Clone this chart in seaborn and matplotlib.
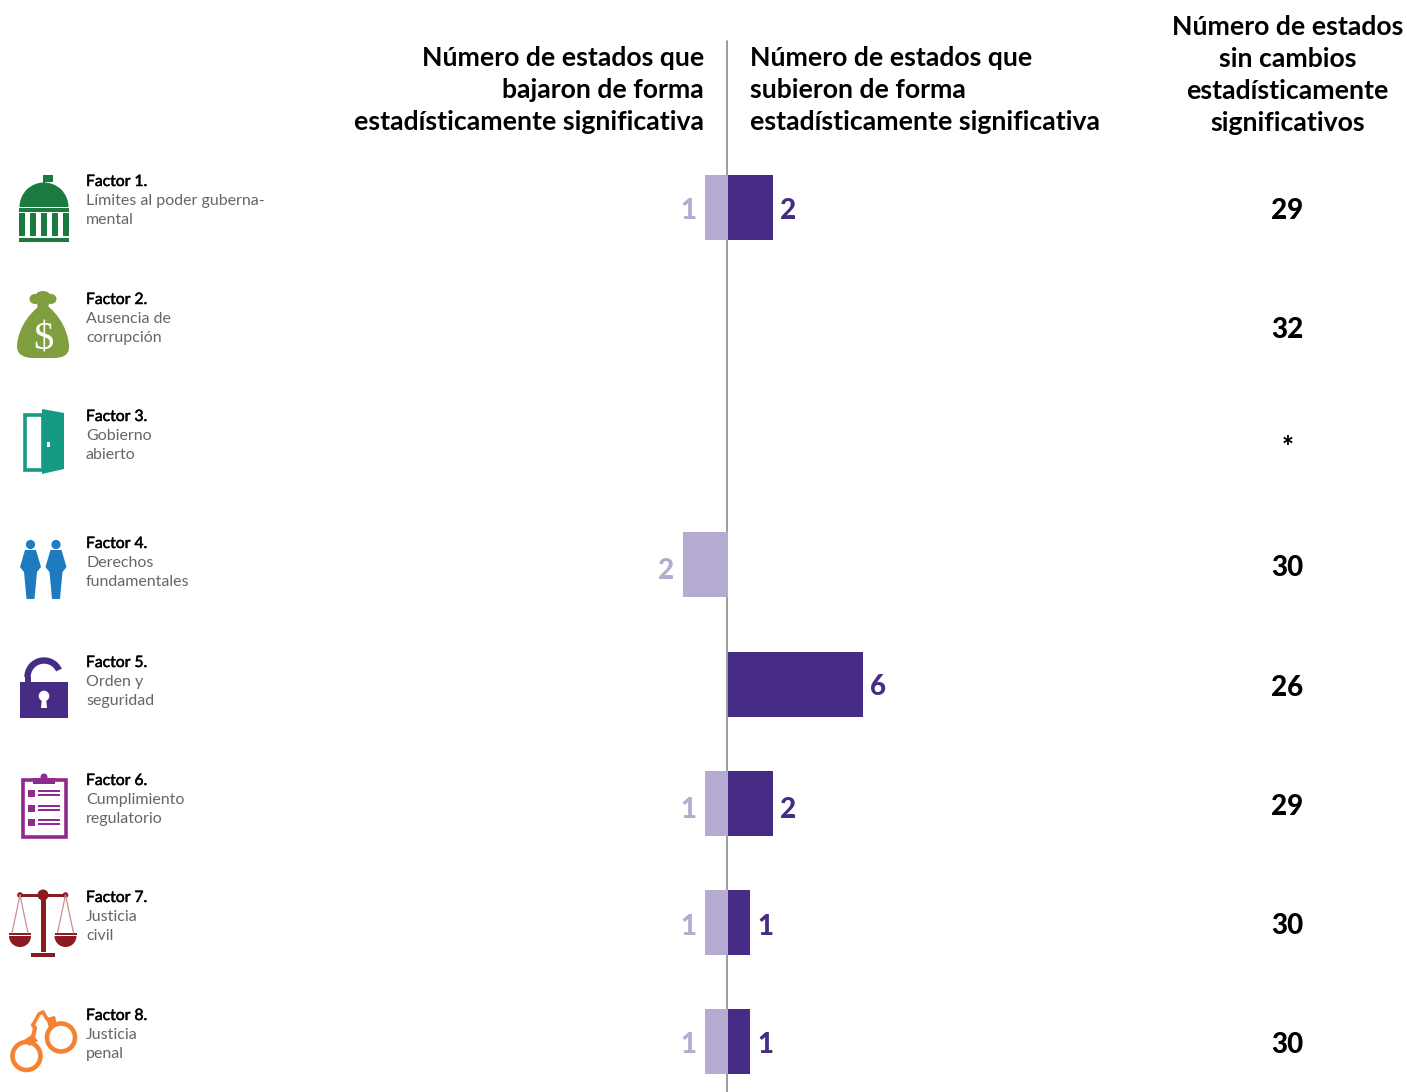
import numpy as np
import pandas as pd
import matplotlib
matplotlib.use('Agg')
import matplotlib.pyplot as plt
import matplotlib.patheffects as pe
import seaborn as sns
from matplotlib.patches import Polygon, Rectangle, Circle, Ellipse, Wedge, Arc, PathPatch
from matplotlib.path import Path

factores = ['Factor 1.', 'Factor 2.', 'Factor 3.', 'Factor 4.',
            'Factor 5.', 'Factor 6.', 'Factor 7.', 'Factor 8.']
descripciones = [['Límites al poder guberna-', 'mental'],
                 ['Ausencia de', 'corrupción'],
                 ['Gobierno', 'abierto'],
                 ['Derechos', 'fundamentales'],
                 ['Orden y', 'seguridad'],
                 ['Cumplimiento', 'regulatorio'],
                 ['Justicia', 'civil'],
                 ['Justicia', 'penal']]
bajaron = [1, 0, 0, 2, 0, 1, 1, 1]
subieron = [2, 0, 0, 0, 6, 2, 1, 1]
sin_cambios = ['29', '32', '*', '30', '26', '29', '30', '30']

titulo_bajaron = ['Número de estados que', 'bajaron de forma', 'estadísticamente significativa']
titulo_subieron = ['Número de estados que', 'subieron de forma', 'estadísticamente significativa']
titulo_sin = ['Número de estados', 'sin cambios', 'estadísticamente', 'significativos']

# layout, in pixels of the 1407x1092 picture
W, H = 1407, 1092
X0 = 727.8
UNIT = 22.5
Y_FIRST, Y_STEP = 207.5, 119.14
fila_texto = [186, 304, 421, 548, 667, 785, 902, 1020]
fila_barra_lab = [219, 0, 0, 579, 695, 818, 935, 1053]
fila_col = [219, 338, 456, 576, 696, 815, 934, 1053]

COL_SUBE = '#472c85'
COL_BAJA = '#b5aad0'

sns.set_theme(style='white', rc={'axes.facecolor': 'none'})
plt.rcParams['font.family'] = ['Lato', 'DejaVu Sans']

df = pd.DataFrame({'factor': factores, 'sube': subieron,
                   'baja': [-v for v in bajaron]})

fig = plt.figure(figsize=(W / 100, H / 100), dpi=100)
ax = fig.add_axes([0, 0, 1, 1])
sns.barplot(data=df, y='factor', x='baja', color=COL_BAJA, saturation=1, width=65 / Y_STEP,
            linewidth=0, edgecolor='none', ax=ax, zorder=3)
sns.barplot(data=df, y='factor', x='sube', color=COL_SUBE, saturation=1, width=65 / Y_STEP,
            linewidth=0, edgecolor='none', ax=ax, zorder=3)
ax.set_xlim(-X0 / UNIT, (W - X0) / UNIT)
ax.set_ylim((H - Y_FIRST) / Y_STEP, -Y_FIRST / Y_STEP)
ax.axvline(-0.5 / UNIT, ymin=0, ymax=1 - 41 / H, color='#8a8a8a', lw=1.2, zorder=1)
ax.axis('off')

# overlay in pixel coordinates for texts and icons
px = fig.add_axes([0, 0, 1, 1])
px.set_xlim(0, W)
px.set_ylim(H, 0)
px.axis('off')

for i, y in enumerate([66, 98, 130]):
    px.text(704, y, titulo_bajaron[i], ha='right', va='baseline', fontsize=19.2, fontweight='bold', color='black')
    px.text(750, y, titulo_subieron[i], ha='left', va='baseline', fontsize=19.2, fontweight='bold', color='black')
for i, y in enumerate([35, 67, 99, 131]):
    px.text(1287.5, y, titulo_sin[i], ha='center', va='baseline', fontsize=19.2, fontweight='bold', color='black')

grueso = [pe.withStroke(linewidth=0.35, foreground='black')]
for i, nombre in enumerate(factores):
    y = fila_texto[i]
    px.text(86, y, nombre, fontsize=11.3, color='black', va='baseline', path_effects=grueso)
    px.text(86, y + 19, descripciones[i][0], fontsize=11.5, color='#666666', va='baseline')
    px.text(86, y + 38, descripciones[i][1], fontsize=11.5, color='#666666', va='baseline')
    px.text(1287.5, fila_col[i], sin_cambios[i], ha='center', va='baseline',
            fontsize=20, fontweight=900, color='black')
    if bajaron[i]:
        px.text(X0 - bajaron[i] * UNIT - 8.5, fila_barra_lab[i], str(bajaron[i]), ha='right', va='baseline',
                fontsize=20, fontweight=900, color=COL_BAJA)
    if subieron[i]:
        px.text(X0 + subieron[i] * UNIT + 7, fila_barra_lab[i], str(subieron[i]), ha='left', va='baseline',
                fontsize=20, fontweight=900, color=COL_SUBE)


def add(p):
    if p.get_fill():
        p.set_linewidth(0)
    px.add_patch(p)
    return p


# Factor 1: capitol
c = '#1a7a40'
add(Rectangle((43, 175), 10, 7, color=c))
add(Rectangle((43, 175), 1.5, 9, color=c))
add(Wedge((44, 207), 24.5, 180, 360, color=c))
add(Rectangle((19, 208), 50, 3.5, color=c))
for x in [19, 30, 41, 52, 63]:
    add(Rectangle((x, 213), 6, 23, color=c))
add(Rectangle((19, 238), 50, 4, color=c))

# Factor 2: money bag
c = '#7f9f3f'
bolsa = Path([(38, 307), (20, 322), (17, 340), (17, 347), (17, 355), (25, 358), (33, 358), (53, 358),
              (63, 358), (69, 355), (69, 347), (69, 340), (66, 322), (49, 307), (38, 307)],
             [1, 4, 4, 4, 4, 4, 4, 2, 4, 4, 4, 4, 4, 4, 2])
add(PathPatch(bolsa, color=c))
add(Ellipse((35, 299), 11, 10, color=c))
add(Ellipse((51, 299), 11, 10, color=c))
add(Ellipse((43, 297), 16, 12, color=c))
add(Polygon([(36, 298), (50, 298), (48, 309), (38, 309)], color=c))
px.text(43.5, 349, '$', fontsize=29, color='white', ha='center', va='baseline', family='Liberation Serif')

# Factor 3: door
c = '#159a85'
add(Rectangle((25, 414.5), 18, 55.5, fill=False, ec=c, lw=2.6))
add(Polygon([(42, 409), (64, 413), (64, 469), (42, 474)], color=c))
add(Rectangle((46.5, 442), 3.5, 4.5, color='white'))

# Factor 4: people
c = '#1f7bbf'
for dx in [0, 25.5]:
    add(Circle((30.5 + dx, 544.5), 4.6, color=c))
    add(Polygon([(25 + dx, 550), (36 + dx, 550), (41 + dx, 567), (37 + dx, 572), (34.5 + dx, 599),
                 (26.5 + dx, 599), (24 + dx, 572), (20 + dx, 567)], color=c))

# Factor 5: open lock
c = '#472c85'
add(Rectangle((20, 682), 48, 36, color=c))
add(Arc((44, 677), 33, 33, theta1=180, theta2=335, ec=c, lw=4.6))
add(Rectangle((25, 677), 6, 6, color=c))
add(Circle((44, 696), 5.3, color='white'))
add(Polygon([(42, 698), (46, 698), (47, 708), (41, 708)], color='white'))

# Factor 6: clipboard
c = '#8f2a8f'
add(Rectangle((22.5, 780), 43, 57, fill=False, ec=c, lw=2.6))
add(Rectangle((33, 777.5), 22, 6.5, color=c))
add(Circle((44, 777), 3.5, color=c))
for y in [793, 808, 822]:
    add(Rectangle((28, y - 3.5), 7, 7, color=c))
    add(Rectangle((38, y - 3), 22, 2, color=c))
    add(Rectangle((38, y + 1), 22, 2, color=c))

# Factor 7: scales
c = '#8b1a22'
add(Rectangle((41, 896), 5, 56, color=c))
add(Rectangle((31, 953), 24, 4, color=c))
add(Rectangle((20, 894), 46, 2.5, color=c))
add(Circle((43, 895), 5.5, color=c))
add(Circle((20, 895), 2.8, color=c))
add(Circle((65.5, 895), 2.8, color=c))
for cx in [20, 65.5]:
    px.plot([cx, cx - 8], [895, 933], color='#c98f93', lw=0.9)
    px.plot([cx, cx + 8], [895, 933], color='#c98f93', lw=0.9)
    add(Rectangle((cx - 11, 933), 22, 2, color=c))
    add(Wedge((cx, 936), 11, 0, 180, color=c))

# Factor 8: handcuffs
c = '#f58233'
add(Circle((26.5, 1056), 14, fill=False, ec=c, lw=3.3))
add(Circle((61, 1037.5), 14, fill=False, ec=c, lw=3.3))
add(Polygon([(24, 1040), (33, 1034), (38, 1041), (29, 1046)], color=c))
add(Polygon([(46, 1018), (55, 1016), (57, 1025), (49, 1028)], color=c))
px.plot([33, 35, 33], [1037, 1028, 1025], color=c, lw=3)
px.plot([33, 39, 43, 47], [1025, 1014, 1012, 1019], color=c, lw=2.6)

fig.savefig('out.png', dpi=100, facecolor='white')
